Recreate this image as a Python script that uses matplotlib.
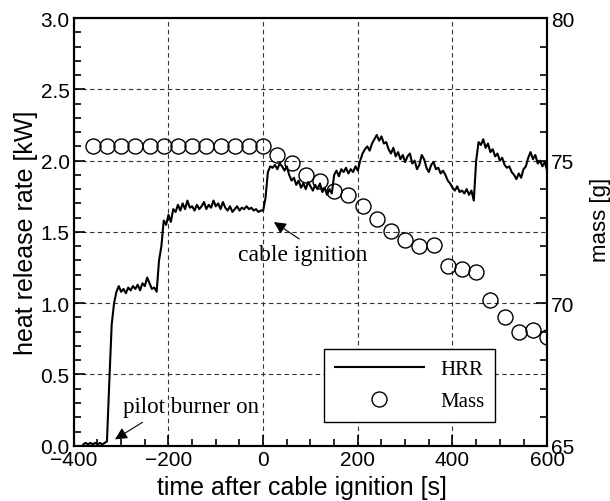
import numpy as np
import matplotlib.pyplot as plt
from matplotlib.ticker import MultipleLocator, FormatStrFormatter

# HRR samples every 5 s from -380 s to 600 s
hrr_t = np.arange(-380, 601, 5)
hrr_kw = [
    0.01, 0.02, 0.01, 0.02, 0.01, 0.02, 0.01, 0.02, 0.01, 0.02,   # -380..-335
    0.03, 0.45, 0.85, 1.00, 1.08, 1.12, 1.08, 1.10, 1.07, 1.11,   # -330..-285
    1.09, 1.12, 1.10, 1.13, 1.09, 1.14, 1.12, 1.18, 1.14, 1.10,   # -280..-235
    1.11, 1.08, 1.30, 1.40, 1.58, 1.55, 1.62, 1.57, 1.66, 1.64,   # -230..-185
    1.69, 1.65, 1.70, 1.66, 1.72, 1.67, 1.68, 1.65, 1.69, 1.66,   # -180..-135
    1.68, 1.71, 1.66, 1.69, 1.67, 1.72, 1.68, 1.70, 1.66, 1.71,   # -130..-85
    1.67, 1.65, 1.68, 1.64, 1.66, 1.68, 1.65, 1.67, 1.66, 1.68,   # -80..-35
    1.66, 1.67, 1.65, 1.66, 1.64, 1.65, 1.65, 1.74, 1.92, 1.96,   # -30..15
    1.95, 1.97, 1.94, 1.98, 1.96, 1.93, 1.96, 1.90, 1.86, 1.88,   # 20..65
    1.83, 1.86, 1.81, 1.84, 1.80, 1.85, 1.82, 1.79, 1.83, 1.80,   # 70..115
    1.84, 1.78, 1.81, 1.76, 1.80, 1.77, 1.90, 1.93, 1.89, 1.94,   # 120..165
    1.92, 1.95, 1.91, 1.94, 1.92, 1.96, 1.93, 2.00, 2.05, 2.08,   # 170..215
    2.10, 2.07, 2.12, 2.15, 2.18, 2.14, 2.17, 2.12, 2.13, 2.08,   # 220..265
    2.05, 2.09, 2.03, 2.06, 2.01, 2.04, 1.99, 2.03, 2.05, 1.98,   # 270..315
    2.00, 1.94, 1.97, 2.04, 2.01, 1.95, 1.92, 1.97, 1.99, 1.94,   # 320..365
    1.95, 1.91, 1.93, 1.90, 1.86, 1.84, 1.81, 1.79, 1.82, 1.78,   # 370..415
    1.79, 1.77, 1.80, 1.76, 1.79, 1.72, 2.00, 2.13, 2.11, 2.15,   # 420..465
    2.09, 2.12, 2.06, 2.08, 2.03, 2.05, 2.00, 2.02, 1.97, 1.95,   # 470..515
    1.96, 1.92, 1.90, 1.87, 1.91, 1.88, 1.94, 1.96, 2.02, 2.06,   # 520..565
    2.01, 2.04, 1.98, 2.00, 1.96, 1.99, 1.93,                     # 570..600
]
assert len(hrr_t) == len(hrr_kw)

# mass readings every 30 s
mass_t = np.arange(-360, 601, 30)
mass_g = [
    75.5, 75.5, 75.5, 75.5, 75.5, 75.5, 75.5, 75.5, 75.5, 75.5, 75.5, 75.5, 75.5,
    75.2, 74.9, 74.5, 74.3, 73.95, 73.8, 73.4, 72.95, 72.55, 72.2, 72.0, 72.05,
    71.3, 71.2, 71.1, 70.1, 69.5, 69.0, 69.05, 68.8,
]
assert len(mass_t) == len(mass_g)

sans = ['Liberation Sans', 'DejaVu Sans']
serif = ['Liberation Serif', 'DejaVu Serif']

fig, ax = plt.subplots(figsize=(6.1, 5.02), dpi=100)
fig.subplots_adjust(left=0.121, right=0.897, bottom=0.110, top=0.962)
ax2 = ax.twinx()

hrr_line, = ax.plot(hrr_t, hrr_kw, color='black', lw=1.5, label='HRR')
mass_pts, = ax2.plot(mass_t, mass_g, ls='none', marker='o', ms=10.8,
                     mfc='none', mec='black', mew=1.0, label='Mass')

ax.set_xlim(-400, 600)
ax.set_ylim(0, 3.0)
ax2.set_ylim(65, 80)

ax.xaxis.set_major_locator(MultipleLocator(200))
ax.xaxis.set_minor_locator(MultipleLocator(50))
ax.yaxis.set_major_locator(MultipleLocator(0.5))
ax.yaxis.set_minor_locator(MultipleLocator(0.1))
ax.yaxis.set_major_formatter(FormatStrFormatter('%.1f'))
ax2.yaxis.set_major_locator(MultipleLocator(5))
ax2.yaxis.set_minor_locator(MultipleLocator(1))

for a in (ax, ax2):
    a.tick_params(which='both', direction='in', width=1.2, labelsize=15, pad=3)
    a.tick_params(which='major', length=8)
    a.tick_params(which='minor', length=5)
    for s in a.spines.values():
        s.set_linewidth(1.5)
    for lab in a.get_xticklabels() + a.get_yticklabels():
        lab.set_family(sans)
ax.tick_params(top=False, right=False)

ax.grid(True, which='major', color='0.2', ls=(0, (4, 3)), lw=0.8)

ax.set_xlabel('time after cable ignition [s]', family=sans, fontsize=18)
ax.xaxis.set_label_coords(0.482, -0.068)
ax.set_ylabel('heat release rate [kW]', family=sans, fontsize=18, labelpad=2)
ax2.set_ylabel('mass [g]', family=sans, fontsize=16)
ax2.yaxis.set_label_coords(1.091, 0.53)

# annotations: text placed on its own, arrow drawn separately
arrow = dict(arrowstyle='-|>', color='black', lw=0.8, mutation_scale=18)
ax.text(-296, 0.24, 'pilot burner on', family=serif, fontsize=16.5)
ax.annotate('', xy=(-318, 0.035), xytext=(-250, 0.175), arrowprops=arrow)
ax.text(-53, 1.30, 'cable ignition', family=serif, fontsize=17)
ax.annotate('', xy=(18, 1.58), xytext=(81, 1.44), arrowprops=arrow)

leg = ax2.legend([hrr_line, mass_pts], ['HRR', 'Mass'], loc='lower left',
                 bbox_to_anchor=(0.529, 0.056), borderaxespad=0,
                 fancybox=False, framealpha=1, edgecolor='black',
                 handlelength=4.3, handletextpad=0.77, labelspacing=0.62,
                 borderpad=0.5, prop={'family': serif, 'size': 15})
leg.get_frame().set_linewidth(1.0)

fig.savefig('out.png', dpi=100)
